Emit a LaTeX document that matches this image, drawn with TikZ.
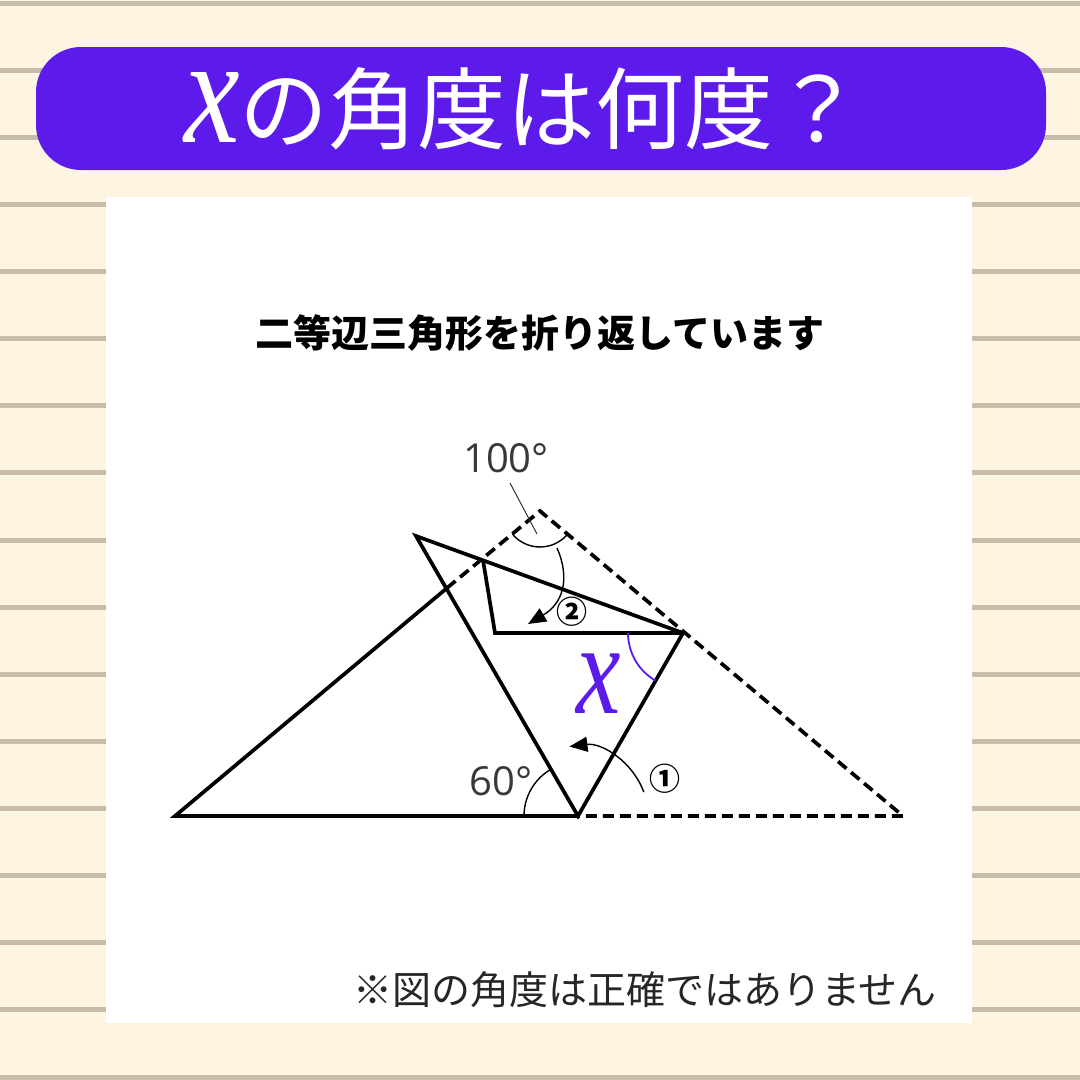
\documentclass[tikz,border=0pt]{standalone}
\usepackage{fontspec}
\setmainfont{Noto Sans CJK JP}
\newfontfamily\xfont{Liberation Serif}
\newfontfamily\numfont{Open Sans}
\usetikzlibrary{arrows.meta}
\definecolor{bg}{RGB}{253,245,225}
\definecolor{rulec}{RGB}{197,188,170}
\definecolor{vio}{RGB}{92,27,235}
\begin{document}
\begin{tikzpicture}[x=1pt,y=-1pt,
  solidline/.style={line width=3.7pt,line join=miter,line cap=butt},
  dashline/.style={line width=3.7pt,dash pattern=on 11pt off 6pt,line join=miter},
  thinarc/.style={line width=1.4pt,black},
  arr/.style={line width=1.4pt,-{Triangle[length=18pt,width=15pt]}},
  deg/.style={font=\numfont\fontsize{40}{40}\selectfont,text=black!78,inner sep=0pt},
  circ/.style={font=\fontsize{31}{31}\selectfont\bfseries,inner sep=0pt}]
\useasboundingbox (0,0) rectangle (1080,1080);
\fill[bg] (0,0) rectangle (1080,1080);
\foreach \k in {0,...,16} \fill[rulec] (0,{0.5+67.125*\k}) rectangle (1080,{5.5+67.125*\k});
\fill[vio,rounded corners=45pt] (36,47) rectangle (1046,170);
\fill[white] (106,197) rectangle (972,1023);
% title
\node[anchor=base west,text=white,inner sep=0pt,font=\fontsize{89}{89}\selectfont] (title) at (184,142)
  {\scalebox{1}[1.22]{\fontsize{125}{125}\selectfont\xfont\itshape x}の角度は何度？};
\node[anchor=base,inner sep=0pt,font=\fontsize{38}{38}\selectfont\bfseries] (sub) at (540,347) {二等辺三角形を折り返しています};
\node[anchor=base,inner sep=0pt,text=black!85,font=\fontsize{39}{39}\selectfont] (note) at (645,1004) {※図の角度は正確ではありません};
% points
\coordinate (B) at (175,816);
\coordinate (P) at (578,816);
\coordinate (C) at (903,816);
\coordinate (A) at (540,511);
\coordinate (Q) at (683,633);
\coordinate (R) at (416,536);
\coordinate (S) at (483,560);
\coordinate (T) at (495,633);
\coordinate (K) at (447,588);
% triangle
\draw[dashline] (K) -- (A) -- (C) -- (P);
\draw[solidline] (K) -- (B) -- (P);
\draw[solidline] (P) -- (R) -- (Q) -- cycle;
\draw[solidline] (S) -- (T) -- (Q);
% arcs
\draw[thinarc] ([shift={(220:36pt)}]A) arc[start angle=220,end angle=320,radius=36pt];
\draw[thinarc] ([shift={(120:54pt)}]P) arc[start angle=120,end angle=180,radius=54pt];
\draw[vio,line width=1.8pt] ([shift={(180:55pt)}]Q) arc[start angle=180,end angle=240,radius=55pt];
\draw[arr] ([shift={(20:70pt)}]P) arc[start angle=20,end angle=97,radius=70pt];
\coordinate (L1) at (510,483);
\coordinate (L2) at (537,534);
\draw[line width=1pt,black!80] (L1) -- (L2);
\coordinate (M1) at (557,548);
\coordinate (M2) at (528,624);
\draw[arr] (M1) .. controls (571,580) and (562,604) .. (M2);
% labels
\node[deg,anchor=base] (l100) at (506,472) {100°};
\node[deg,anchor=base] (l60) at (501,795) {60°};
\node[circ] (c1) at (665,779) {①};
\node[circ] (c2) at (572,612) {②};
\node[anchor=base,inner sep=0pt,text=vio,text height=58pt,text depth=0pt] (xl) at (599,713)
  {\scalebox{1}[1.3]{\fontsize{100}{100}\selectfont\xfont\itshape x}};
\end{tikzpicture}
\end{document}
